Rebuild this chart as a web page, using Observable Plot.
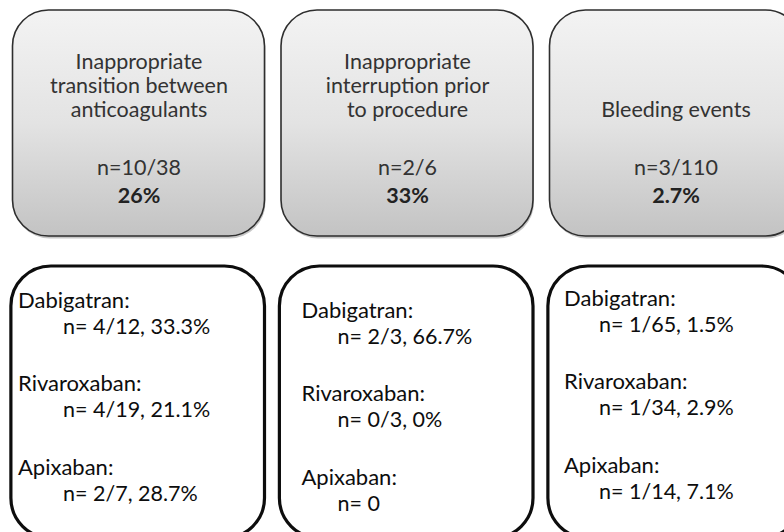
<!DOCTYPE html>
<html>
<head>
<meta charset="utf-8">
<script src="https://cdn.jsdelivr.net/npm/d3@7"></script>
<script src="https://cdn.jsdelivr.net/npm/@observablehq/plot@0.6"></script>
<style>
  html, body { margin: 0; padding: 0; background: #fff; overflow: hidden; }
  #chart svg { display: block; }
</style>
</head>
<body>
<div id="chart"></div>
<script>
// ---------- data ----------
const categoryTitles = [
  "Inappropriate\ntransition between\nanticoagulants",
  "Inappropriate\ninterruption prior\nto procedure",
  "Bleeding events"
];
const categoryCounts = ["n=10/38", "n=2/6", "n=3/110"];
const categoryPercents = ["26%", "33%", "2.7%"];

const drugs = ["Dabigatran:", "Rivaroxaban:", "Apixaban:"];
const transitionValues = ["n= 4/12, 33.3%", "n= 4/19, 21.1%", "n= 2/7, 28.7%"];
const interruptionValues = ["n= 2/3, 66.7%", "n= 0/3, 0%", "n= 0"];
const bleedingValues = ["n= 1/65, 1.5%", "n= 1/34, 2.9%", "n= 1/14, 7.1%"];
const drugValues = [transitionValues, interruptionValues, bleedingValues];

// ---------- layout ----------
const W = 784, H = 532;
const colStep = 268.5, colLeft = 12.5, boxW = 252;
const boxU = boxW / colStep;
const cols = [0, 1, 2];
const topBox = {y1: 10, y2: 236};
const bottomBox = {y1: 266, y2: 538};
const titleBottom = 116, countY = 168, pctY = 196;
const drugFirstY = [300, 310, 298];
const drugStep = 83.5, valueGap = 26.5;
const labelIndent = [5, 20, 14];
const valueIndent = [50, 56, 49];

const topRects = cols.map(c => ({c, x1: c, x2: c + boxU, y1: topBox.y1, y2: topBox.y2}));
const bottomRects = cols.map(c => ({c, x1: c - 0.006, x2: c + boxU, y1: bottomBox.y1, y2: bottomBox.y2}));

const titleRows = cols.map(c => ({c, x: c + boxU / 2, text: categoryTitles[c]}));
const countRows = cols.map(c => ({c, x: c + boxU / 2, text: categoryCounts[c]}));
const pctRows = cols.map(c => ({c, x: c + boxU / 2, text: categoryPercents[c]}));

const drugLabelRows = [];
const drugValueRows = [];
cols.forEach(c => drugs.forEach((d, k) => {
  const y = drugFirstY[c] + k * drugStep;
  drugLabelRows.push({c, x: c + labelIndent[c] / colStep, y, text: d});
  drugValueRows.push({c, x: c + valueIndent[c] / colStep, y: y + valueGap, text: drugValues[c][k]});
}));

const font = "Lato, 'Open Sans', sans-serif";

const svg = Plot.plot({
  width: W,
  height: H,
  margin: 0,
  style: {fontFamily: font, background: "#fff"},
  x: {type: "linear", domain: [-colLeft / colStep, (W - colLeft) / colStep], range: [0, W], axis: null},
  y: {type: "linear", domain: [0, H], range: [0, H], axis: null},
  marks: [
    // shadow of top boxes
    Plot.rect(topRects, {x1: "x1", x2: "x2", y1: "y1", y2: "y2", dx: 1, dy: 2.5, rx: 36, ry: 36, fill: "#000", fillOpacity: 0.22}),
    Plot.rect(topRects, {x1: "x1", x2: "x2", y1: "y1", y2: "y2", rx: 36, ry: 36, fill: "url(#topGrad)", stroke: "#2e2e2e", strokeWidth: 1.6}),
    Plot.rect(bottomRects, {x1: "x1", x2: "x2", y1: "y1", y2: "y2", rx: 40, ry: 40, fill: "#fff", stroke: "#0d0d0d", strokeWidth: 3.2}),
    Plot.text(titleRows, {x: "x", y: () => titleBottom, text: "text", lineAnchor: "bottom", lineHeight: 1.1, fontSize: 21.5, fill: "#333"}),
    Plot.text(countRows, {x: "x", y: () => countY, text: "text", fontSize: 21.5, fill: "#333"}),
    Plot.text(pctRows, {x: "x", y: () => pctY, text: "text", fontSize: 21.5, fontWeight: "bold", fill: "#222"}),
    Plot.text(drugLabelRows, {x: "x", y: "y", text: "text", textAnchor: "start", fontSize: 22, fill: "#0d0d0d"}),
    Plot.text(drugValueRows, {x: "x", y: "y", text: "text", textAnchor: "start", fontSize: 21.5, fill: "#0d0d0d"})
  ]
});

// gradient definition for the grey header boxes
const defs = d3.create("svg:defs");
const grad = defs.append("linearGradient").attr("id", "topGrad").attr("x1", 0).attr("y1", 0).attr("x2", 0).attr("y2", 1);
grad.append("stop").attr("offset", "0%").attr("stop-color", "#f3f3f3");
grad.append("stop").attr("offset", "50%").attr("stop-color", "#e3e3e3");
grad.append("stop").attr("offset", "100%").attr("stop-color", "#c3c3c3");
svg.insertBefore(defs.node(), svg.firstChild);

document.getElementById("chart").appendChild(svg);
</script>
</body>
</html>
